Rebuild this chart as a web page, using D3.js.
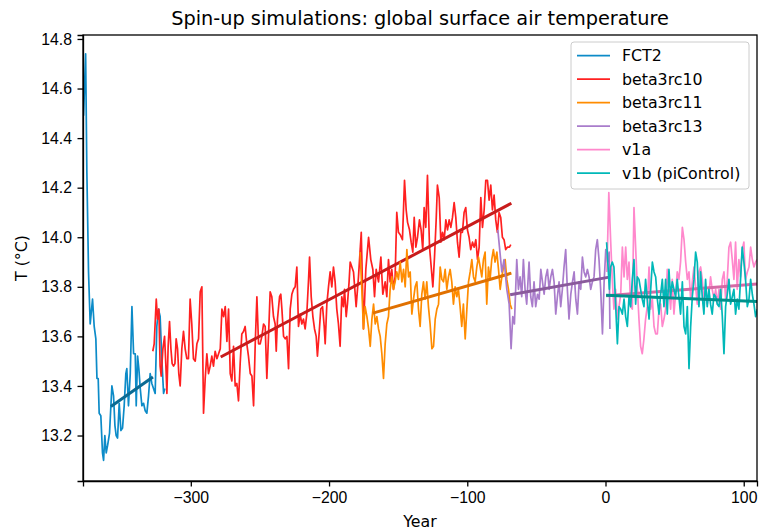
<!DOCTYPE html>
<html>
<head>
<meta charset="utf-8">
<style>
  body { margin: 0; background: #fff; }
  svg { font-family: "DejaVu Sans", sans-serif; }
  .axis path, .axis line { stroke: #000; stroke-width: 1.3px; }
  .axis text { font-size: 15.8px; fill: #000; }
  .line { fill: none; stroke-width: 1.7px; stroke-linejoin: round; }
  .trend { fill: none; stroke-width: 3px; }
</style>
</head>
<body>
<script src="https://d3js.org/d3.v7.min.js"></script>
<script>

// series names and colours (legend order)
var names = ["FCT2", "beta3rc10", "beta3rc11", "beta3rc13", "v1a", "v1b (piControl)"];
var colors = ["#0c8bc8", "#ff2020", "#ff8c00", "#a97ccb", "#ff88cc", "#00b8b8"];
var trendColors = ["#0b6b93", "#c81c1c", "#e07000", "#8a5a9c", "#d56ba6", "#00918c"];

// [year, T]
var fct2 = [[-377.6,14.49],[-376.1,14.74],[-375.2,14.26],[-374.0,13.86],[-372.8,13.65],[-371.1,13.75],[-369.9,13.64],[-368.7,13.59],[-367.9,13.43],[-367.0,13.43],[-366.3,13.29],[-365.1,13.28],[-363.9,13.13],[-363.1,13.10],[-362.2,13.20],[-361.2,13.13],[-360.2,13.16],[-358.8,13.21],[-357.1,13.40],[-355.9,13.36],[-354.9,13.24],[-354.0,13.20],[-353.0,13.19],[-351.8,13.33],[-350.6,13.22],[-349.4,13.23],[-348.2,13.32],[-347.0,13.45],[-346.3,13.47],[-345.1,13.32],[-343.8,13.45],[-342.6,13.72],[-341.4,13.53],[-340.2,13.53],[-339.5,13.32],[-338.5,13.52],[-337.6,13.47],[-336.6,13.39],[-335.4,13.32],[-334.2,13.33],[-333.0,13.30],[-331.8,13.29],[-330.6,13.36],[-329.4,13.45],[-328.2,13.41],[-327.0,13.39],[-325.8,13.37],[-324.6,13.64],[-323.4,13.71],[-322.2,13.68],[-321.0,13.51],[-319.7,13.37],[-318.8,13.39]];

var beta3rc10 = [[-327.5,13.54],[-326.5,13.57],[-325.0,13.75],[-324.1,13.67],[-323.1,13.71],[-322.2,13.48],[-321.4,13.44],[-320.2,13.55],[-319.0,13.60],[-318.1,13.49],[-317.3,13.37],[-316.4,13.56],[-315.4,13.66],[-314.4,13.55],[-313.5,13.49],[-312.5,13.48],[-311.5,13.49],[-310.6,13.59],[-309.6,13.55],[-308.7,13.45],[-307.7,13.40],[-306.5,13.55],[-305.3,13.62],[-304.1,13.55],[-302.9,13.51],[-301.7,13.51],[-300.5,13.75],[-299.3,13.65],[-298.1,13.51],[-296.8,13.50],[-295.6,13.57],[-294.4,13.59],[-293.2,13.78],[-292.0,13.80],[-290.8,13.29],[-289.6,13.43],
  [-288.4,13.53],[-287.2,13.45],[-286.0,13.48],[-284.8,13.52],[-283.6,13.48],[-282.4,13.54],[-281.1,13.51],[-279.9,13.53],[-278.7,13.55],[-277.5,13.71],[-276.3,13.68],[-275.1,13.72],[-273.9,13.58],[-272.7,13.71],[-271.5,13.45],[-270.3,13.42],[-269.1,13.56],[-267.9,13.40],[-266.7,13.41],[-265.5,13.34],[-264.3,13.49],[-263.1,13.61],[-261.9,13.62],[-260.7,13.64],[-259.5,13.57],[-258.3,13.52],[-257.0,13.45],[-255.8,13.44],[-254.6,13.32],[-253.4,13.57],[-252.2,13.76],[-251.0,13.57],[-249.8,13.57],[-248.6,13.60],[-247.4,13.65],[-246.2,13.64],[-245.0,13.43],[-243.8,13.60],[-242.6,13.78],[-241.4,13.76],[-240.2,13.68],[-239.0,13.65],[-238.2,13.54],[-237.3,13.67],[-235.8,13.76],[-234.9,13.77],[-234.1,13.71],[-232.9,13.60],[-231.7,13.59],[-230.5,13.60],[-229.3,13.47],[-228.1,13.71],[-226.9,13.77],[-225.7,13.79],[-224.5,13.80],[-223.3,13.88],[-222.1,13.64],[-220.9,13.69],[-219.7,13.65],[-218.5,13.67],[-217.3,13.63],[-216.1,13.69],[-214.9,13.82],[-214.1,13.92],[-212.9,13.76],[-211.7,13.68],[-210.5,13.63],[-209.3,13.60],[-208.4,13.52],[-207.2,13.61],[-206.0,13.71],[-204.7,13.72],[-203.5,13.64],[-202.8,13.57],[-201.6,13.73],[-200.4,13.80],[-199.2,13.86],[-198.0,13.80],[-196.8,13.88],[-195.6,13.82],[-194.4,13.71],[-193.2,13.65],[-192.0,13.56],[-190.8,13.76],[-189.6,13.72],[-188.8,13.79],[-187.6,13.68],[-186.7,13.73],[-185.5,13.82],
  [-184.7,13.90],[-183.5,13.88],[-182.3,13.86],[-180.4,13.72],[-178.7,13.84],[-176.7,14.02],[-175.1,13.63],[-173.4,13.87],[-171.4,14.00],[-169.8,13.91],[-168.3,13.87],[-167.1,13.76],[-165.9,13.87],[-164.2,13.82],[-162.5,13.92],[-161.1,13.77],[-159.4,13.82],[-158.2,13.76],[-157.0,13.91],[-155.8,13.82],[-154.6,13.87],[-153.4,13.79],[-152.2,13.84],[-151.0,14.10],[-149.8,14.02],[-148.5,14.01],[-146.9,13.99],[-145.4,14.23],[-144.2,14.11],[-143.2,14.06],[-141.8,14.03],[-140.6,13.98],[-139.4,13.94],[-138.4,14.08],[-137.2,13.96],[-136.0,14.00],[-134.6,14.07],[-133.4,14.03],[-132.2,13.95],[-131.2,14.12],[-130.0,14.04],[-128.8,14.25],[-127.3,13.96],[-126.1,13.88],[-124.9,13.80],[-123.7,13.92],[-122.5,14.07],[-121.6,14.21],[-120.3,14.16],[-119.1,13.98],[-117.9,14.02],[-116.7,13.99],[-115.5,14.07],[-114.3,14.03],[-113.1,14.07],[-111.9,14.04],[-110.7,14.08],[-109.5,14.14],[-108.3,14.08],[-107.1,13.98],[-105.9,13.92],[-104.7,14.02],[-103.5,14.02],[-102.3,14.10],[-101.1,14.12],[-99.9,14.03],[-98.7,14.00],[-97.5,13.95],[-96.2,13.98],[-95.0,13.96],[-93.8,13.99],[-92.6,13.91],[-91.4,13.96],[-90.2,14.16],[-89.0,14.04],[-87.8,14.11],[-86.6,14.23],[-85.4,14.23],[-84.2,14.15],[-83.0,14.21],[-81.8,14.11],[-80.6,14.17],[-79.4,14.07],[-78.2,14.02],[-77.0,14.10],[-75.8,14.08],[-74.6,14.00],[-73.4,13.99],[-72.2,13.95],[-71.0,13.96],[-69.5,13.96],[-68.5,13.97]];

var beta3rc11 = [[-177.5,13.94],[-176.3,13.79],[-175.1,13.63],[-173.9,13.72],[-172.6,13.68],[-171.4,13.63],[-170.2,13.56],[-169.0,13.67],[-167.8,13.73],[-166.6,13.65],[-165.4,13.68],[-164.2,13.63],[-163.0,13.60],[-161.8,13.53],[-160.6,13.43],[-159.4,13.57],[-158.2,13.65],[-157.0,13.68],[-155.8,13.79],[-154.6,13.84],[-153.4,13.79],[-152.2,13.82],[-151.0,13.86],[-149.8,13.83],[-148.5,13.90],[-147.3,13.82],[-146.1,13.87],[-144.9,13.80],[-143.7,13.95],[-142.5,13.84],[-141.3,13.86],[-140.1,13.69],[-138.9,13.75],[-137.7,13.80],[-136.5,13.82],[-135.3,13.71],[-134.1,13.64],[-132.9,13.77],[-131.7,13.82],[-130.5,13.75],[-129.3,13.82],[-128.1,13.72],[-126.9,13.65],[-125.6,13.55],[-124.4,13.56],[-123.2,13.67],[-122.0,13.71],[-120.8,13.73],[-119.6,13.88],[-118.4,13.83],[-117.2,13.82],[-116.0,13.87],[-114.8,13.79],[-113.6,13.84],[-112.4,13.87],[-111.2,13.82],[-110.0,13.73],[-108.8,13.80],[-107.6,13.76],[-106.4,13.79],[-105.2,13.72],[-104.0,13.64],[-102.8,13.73],[-101.5,13.59],[-100.3,13.71],[-99.1,13.82],[-97.9,13.86],[-96.7,13.91],[-95.5,13.84],[-94.3,13.82],[-93.1,13.88],[-91.9,13.92],[-90.7,13.88],[-89.5,13.84],[-88.3,13.91],[-87.1,13.94],[-85.9,13.73],[-84.7,13.88],[-83.5,13.83],[-82.3,13.91],[-81.1,13.95],[-79.9,13.90],[-78.6,13.94],[-77.4,13.87],[-76.2,13.79],[-75.0,13.84],[-73.8,13.88],[-72.6,13.91],[-71.4,13.83],[-70.2,13.79],[-69.0,13.73],[-67.8,13.71]];

var beta3rc13 = [[-77.9,14.03],[-75.0,13.86],[-73.4,13.91],[-71.4,13.79],[-69.7,13.73],[-68.3,13.55],[-67.1,13.68],[-65.9,13.65],[-64.2,13.91],[-63.0,13.79],[-61.8,13.84],[-60.6,13.76],[-59.4,13.91],[-58.2,13.79],[-57.0,13.73],[-55.3,13.90],[-54.1,13.76],[-52.9,13.72],[-51.7,13.82],[-50.5,13.72],[-49.2,13.77],[-48.0,13.75],[-46.8,13.87],[-45.6,13.82],[-44.4,13.77],[-43.2,13.84],[-42.0,13.87],[-40.8,13.79],[-39.6,13.84],[-38.4,13.87],[-37.2,13.82],[-36.0,13.69],[-34.8,13.76],[-33.6,13.82],[-32.4,13.72],[-31.2,13.79],[-30.0,13.88],[-28.8,13.95],[-27.6,13.79],[-26.4,13.67],[-25.1,13.77],[-23.9,13.82],[-22.7,13.86],[-21.5,13.75],[-20.3,13.69],[-19.1,13.82],[-17.9,13.79],[-16.7,13.92],[-15.5,13.86],[-14.3,13.84],[-13.1,13.87],[-11.9,13.84],[-10.7,13.79],[-9.5,13.82],[-8.3,13.84],[-7.1,13.95],[-5.9,13.99],[-4.7,13.91],[-3.5,13.79],[-2.2,13.61],[-1.0,13.82],[0.2,13.95],[1.4,13.90],[2.6,13.94],[3.2,13.63]];

var v1a = [[1.0,13.86],[2.4,14.18],[3.7,13.99],[4.9,13.83],[6.1,13.71],[7.3,13.79],[8.6,13.67],[9.8,13.72],[11.0,13.77],[12.2,13.96],[13.4,13.84],[14.6,13.96],[15.8,13.83],[17.0,13.90],[18.2,13.72],[19.4,13.71],[20.6,14.12],[21.8,13.96],[23.0,13.80],[24.2,13.67],[25.4,13.56],[26.6,13.53],[27.8,13.59],[29.0,13.67],[30.2,13.72],[31.5,13.88],[32.7,13.71],[33.9,13.75],[35.1,13.64],[36.3,13.61],[37.5,13.61],[38.7,13.71],[39.9,13.73],[41.1,13.64],[42.3,13.67],[43.5,13.71],[44.7,13.87],[45.9,13.79],[47.1,13.71],[48.3,13.83],[49.5,13.69],[50.7,13.77],[51.9,13.86],[53.1,13.83],[54.3,13.90],[55.6,14.04],[56.8,13.99],[58.0,13.90],[59.2,13.83],[60.4,13.86],[61.6,13.75],[62.8,13.82],[64.0,13.88],[65.2,13.80],[66.4,13.73],[67.6,13.86],[68.8,13.88],[70.0,13.83],[71.2,13.73],[72.4,13.80],[73.6,13.73],[74.8,13.77],[76.0,13.84],[77.2,13.79],[78.5,13.75],[79.7,13.79],[80.9,13.73],[82.1,13.79],[83.3,13.71],[84.5,13.83],[85.7,13.86],[86.9,13.75],[88.1,13.83],[89.3,13.96],[90.5,13.98],[91.7,13.91],[92.9,13.83],[94.1,13.98],[95.3,13.79],[96.5,13.91],[97.7,13.84],[98.9,13.95],[100.1,13.98],[101.3,13.83],[102.6,13.86],[103.8,13.88],[105.0,13.96],[106.2,13.91],[107.4,13.88],[108.6,13.90],[109.8,13.91]];

var v1b = [[0.8,13.98],[2.8,13.79],[3.7,13.88],[4.9,13.90],[6.1,13.88],[7.3,13.73],[8.6,13.57],[9.8,13.72],[11.0,13.71],[12.2,13.69],[13.4,13.75],[14.6,13.68],[15.8,13.64],[17.0,13.76],[18.2,13.72],[19.4,13.83],[20.6,13.91],[21.8,13.73],[23.0,13.84],[24.2,13.83],[25.4,13.79],[26.6,13.75],[27.8,13.72],[29.0,13.83],[30.2,13.75],[31.5,13.67],[32.7,13.79],[33.9,13.90],[35.1,13.86],[36.3,13.84],[37.5,13.75],[38.7,13.69],[39.9,13.77],[41.1,13.83],[42.3,13.72],[43.5,13.83],[44.7,13.69],[45.9,13.87],[47.1,13.76],[48.3,13.82],[49.5,13.79],[50.7,13.76],[51.9,13.83],[53.1,13.76],[54.3,13.69],[55.6,13.82],[56.8,13.64],[58.0,13.61],[59.2,13.72],[60.4,13.47],[61.6,13.64],[62.8,13.76],[64.0,13.83],[65.2,13.94],[66.4,13.90],[67.6,13.72],[68.8,13.86],[70.0,13.76],[71.2,13.69],[72.4,13.83],[73.6,13.72],[74.8,13.79],[76.0,13.73],[77.2,13.69],[78.5,13.77],[79.7,13.76],[80.9,13.73],[82.1,13.72],[83.3,13.79],[84.5,13.68],[85.7,13.53],[86.9,13.72],[88.1,13.77],[89.3,13.83],[90.5,13.73],[91.7,13.76],[92.9,13.79],[94.1,13.69],[95.3,13.75],[96.5,13.71],[97.7,13.83],[98.9,13.96],[100.1,13.90],[101.3,13.83],[102.6,13.72],[103.8,13.75],[105.0,13.83],[106.2,13.77],[107.4,13.73],[108.6,13.68],[109.8,13.71]];

// linear trend lines: [[year0, T0], [year1, T1]]
var trendFct2 = [[-357.8,13.317],[-327.4,13.436]];
var trendRc10 = [[-278.4,13.517],[-68.1,14.137]];
var trendRc11 = [[-168.3,13.694],[-68.1,13.855]];
var trendRc13 = [[-69.0,13.768],[2.8,13.839]];
var trendV1a  = [[0.5,13.764],[110,13.812]];
var trendV1b  = [[0.4,13.766],[110,13.741]];

var xTicks = [-300, -200, -100, 0, 100];
var yTicks = [13.2, 13.4, 13.6, 13.8, 14.0, 14.2, 14.4, 14.6, 14.8];

var series = [fct2, beta3rc10, beta3rc11, beta3rc13, v1a, v1b];
var trends = [trendFct2, trendRc10, trendRc11, trendRc13, trendV1a, trendV1b];

var margin = {top: 35, right: 5, bottom: 50, left: 83},
    width = 762 - margin.left - margin.right,
    height = 531 - margin.top - margin.bottom;

var x = d3.scaleLinear().domain([-378, 109.6]).range([0, width]);
var y = d3.scaleLinear().domain([13.0165, 14.816]).range([height, 0]);

var svg = d3.select("body").append("svg")
    .attr("width", 762)
    .attr("height", 531);

var g = svg.append("g")
    .attr("transform", "translate(" + margin.left + "," + margin.top + ")");

g.append("clipPath").attr("id", "clip")
  .append("rect").attr("width", width).attr("height", height);

var line = d3.line()
    .x(function(d) { return x(d[0]); })
    .y(function(d) { return y(d[1]); });

var plot = g.append("g").attr("clip-path", "url(#clip)");

// each run: data then its trend
series.forEach(function(s, i) {
  plot.append("path")
      .datum(s)
      .attr("class", "line")
      .style("stroke", colors[i])
      .attr("d", line);
  plot.append("path")
      .datum(trends[i])
      .attr("class", "trend")
      .style("stroke", trendColors[i])
      .attr("d", line);
});

// axes
var fmtX = function(d) { return d < 0 ? "\u2212" + Math.abs(d) : d; };

g.append("g")
    .attr("class", "axis")
    .attr("transform", "translate(0," + height + ")")
    .call(d3.axisBottom(x).tickValues(xTicks).tickFormat(fmtX).tickSizeOuter(0).tickSize(5.5).tickPadding(5.5));

g.append("g")
    .attr("class", "axis")
    .call(d3.axisLeft(y).tickValues(yTicks).tickFormat(d3.format(".1f")).tickSizeOuter(0).tickSize(5.5).tickPadding(5.5));

// frame
g.append("rect")
    .attr("width", width)
    .attr("height", height)
    .style("fill", "none")
    .style("stroke", "#000")
    .style("stroke-width", 1.3);

// labels
svg.append("text")
    .attr("x", margin.left + width / 2)
    .attr("y", 25)
    .attr("text-anchor", "middle")
    .style("font-size", "19.3px")
    .text("Spin-up simulations: global surface air temperature");

svg.append("text")
    .attr("x", margin.left + width / 2)
    .attr("y", 527)
    .attr("text-anchor", "middle")
    .style("font-size", "15.8px")
    .text("Year");

svg.append("text")
    .attr("transform", "translate(27," + (margin.top + height / 2) + ") rotate(-90)")
    .attr("text-anchor", "middle")
    .style("font-size", "15.8px")
    .text("T (\u00b0C)");

// legend
var legend = svg.append("g").attr("transform", "translate(571,42)");

legend.append("rect")
    .attr("width", 178)
    .attr("height", 147)
    .attr("rx", 3)
    .style("fill", "#fff")
    .style("fill-opacity", 0.8)
    .style("stroke", "#cccccc")
    .style("stroke-width", 1);

names.forEach(function(n, i) {
  var row = legend.append("g").attr("transform", "translate(0," + (13.7 + i * 23.5) + ")");
  row.append("line")
      .attr("x1", 6).attr("x2", 39)
      .style("stroke", colors[i])
      .style("stroke-width", 1.7);
  row.append("text")
      .attr("x", 51)
      .attr("dy", "0.35em")
      .style("font-size", "15.8px")
      .text(n);
});

</script>
</body>
</html>
